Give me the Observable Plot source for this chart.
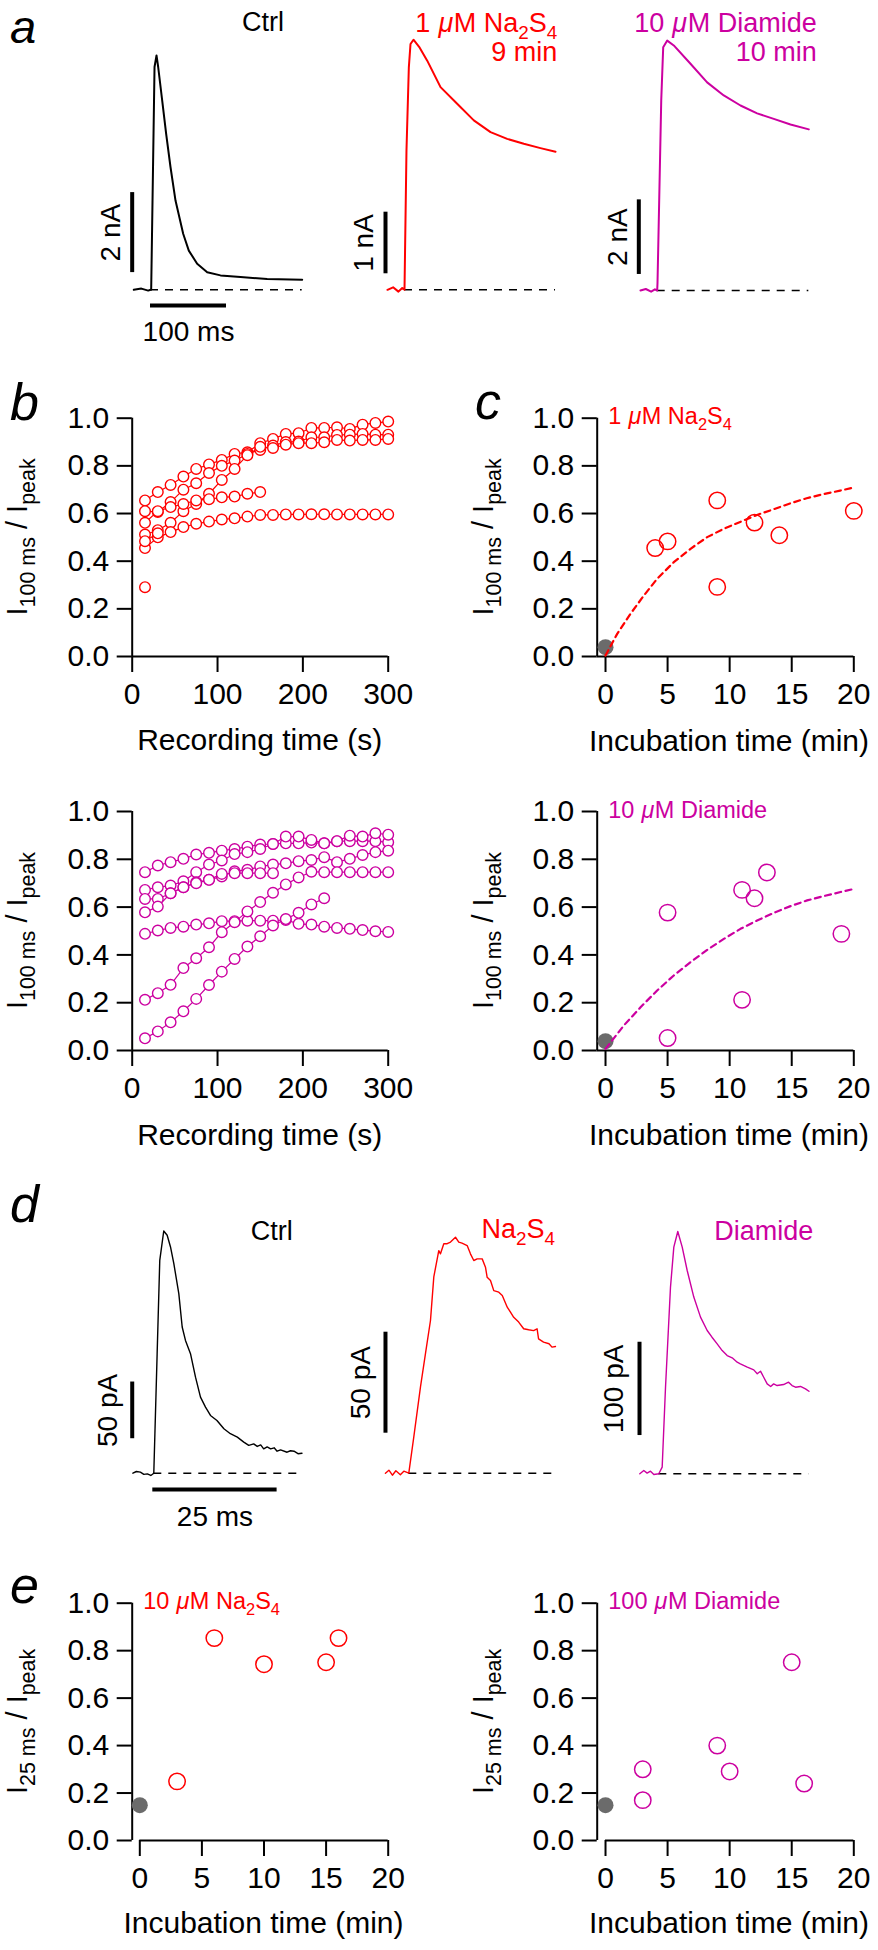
<!DOCTYPE html>
<html><head><meta charset="utf-8">
<script src="https://cdn.jsdelivr.net/npm/d3@7"></script>
<script src="https://cdn.jsdelivr.net/npm/@observablehq/plot@0.6"></script>
<style>
body{margin:0;background:#fff;}
#fig{position:relative;width:878px;height:1950px;background:#fff;}
#fig svg{position:absolute;overflow:visible;}
</style></head><body><div id="fig"></div>
<script>
// ---------- colours ----------
const RED = "#ff0000", MAG = "#cc00a0", GRAY = "#6b6b6b", BLACK = "#000000";
const FONT = '"Liberation Sans", Arial, Helvetica, sans-serif';

// ---------- panel a: whole-cell traces (time ms, current nA) ----------
const aCtrlT = [-22, -12, -3, 0, 0.9, 5.3, 7.9, 10.1, 15.4, 20.6, 26.3, 32.9, 43, 50.4, 61.4, 74.6, 92.1, 118.4, 153.5, 199.6];
const aCtrlI = [0, 0.03, -0.02, 0, 0, 5.57, 5.86, 5.57, 4.73, 3.90, 3.07, 2.23, 1.40, 0.98, 0.65, 0.44, 0.36, 0.32, 0.27, 0.25];
const aNaT = [-22.4, -15, -8, -3, 0, 2.6, 5.7, 7.9, 11.8, 20, 29.9, 47.4, 69.3, 91.2, 113.2, 135.1, 157, 178.9, 198.7];
const aNaI = [0, 0.04, -0.03, 0.03, 0, 2.26, 3.61, 3.99, 4.06, 3.93, 3.72, 3.29, 3.02, 2.75, 2.56, 2.45, 2.37, 2.30, 2.24];
const aDiT = [-22, -15, -8, -3, 0, 0.4, 5.3, 7.9, 13.2, 21.8, 43.8, 65.7, 87.6, 109.6, 131.5, 153.4, 175.4, 199.5];
const aDiI = [0, 0.04, -0.03, 0.03, 0, 0.2, 5.09, 6.52, 6.70, 6.57, 6.08, 5.58, 5.23, 4.96, 4.75, 4.60, 4.45, 4.32];

// ---------- panel b: I100ms/Ipeak vs recording time ----------
const recTime = [15,30,45,60,75,90,105,120,135,150,165,180,195,210,225,240,255,270,285,300];
const bNa1 = [0.655,0.690,0.720,0.755,0.787,0.806,0.825,0.850,0.857,0.895,0.913,0.934,0.937,0.959,0.959,0.962,0.955,0.973,0.980,0.986];
const bNa2 = [0.610,0.606,0.648,0.700,0.727,0.770,0.800,0.822,0.850,0.867,0.885,0.900,0.902,0.920,0.920,0.930,0.931,0.934,0.931,0.931];
const bNa3 = [0.512,0.530,0.561,0.610,0.640,0.683,0.741,0.787,0.845,0.880,0.875,0.889,0.895,0.895,0.899,0.909,0.906,0.909,0.909,0.913];
const bNa4 = [0.561,0.610,0.627,0.640,0.655,0.660,0.668,0.671,0.683,0.690];
const bNa5 = [0.455,0.500,0.522,0.543,0.557,0.566,0.575,0.580,0.587,0.594,0.594,0.596,0.596,0.597,0.597,0.596,0.596,0.596,0.596,0.596];
const bNa6 = [0.484,0.517];
const bNa7 = [0.291];
const bDi1 = [0.746,0.774,0.788,0.802,0.820,0.827,0.836,0.843,0.853,0.862,0.864,0.867,0.867,0.870,0.867,0.876,0.876,0.876,0.876,0.871];
const bDi2 = [0.672,0.683,0.690,0.708,0.746,0.778,0.795,0.822,0.830,0.843,0.864,0.895,0.895,0.881,0.867,0.876,0.899,0.895,0.909,0.903];
const bDi3 = [0.634,0.634,0.658,0.683,0.704,0.714,0.728,0.750,0.756,0.770,0.778,0.783,0.792,0.797,0.809,0.788,0.802,0.818,0.830,0.836];
const bDi4 = [0.578,0.602,0.658,0.683,0.700,0.714,0.739,0.742,0.742,0.742,0.742];
const bDi5 = [0.488,0.502,0.513,0.518,0.527,0.532,0.541,0.541,0.543,0.543,0.543,0.546,0.530,0.527,0.518,0.513,0.509,0.504,0.499,0.496];
const bDi6 = [0.212,0.240,0.275,0.345,0.386,0.432,0.495,0.537,0.582,0.621,0.660,0.695,0.724,0.748,0.746,0.746,0.746,0.746,0.746,0.746];
const bDi7 = [0.051,0.080,0.118,0.164,0.216,0.274,0.330,0.383,0.435,0.478,0.523,0.550,0.576,0.611,0.637];

// ---------- panel c: I100ms/Ipeak vs incubation time ----------
const cNaT = [4, 5, 9, 9, 12, 14, 20];
const cNaV = [0.455, 0.483, 0.655, 0.292, 0.562, 0.509, 0.611];
const cNaFitT = [0, 0.94, 2.01, 3.09, 4.16, 5.5, 6.85, 8.19, 9.53, 10.9, 12.2, 13.6, 14.9, 16.2, 17.6, 18.9, 20];
const cNaFitV = [0.004, 0.095, 0.179, 0.256, 0.326, 0.396, 0.452, 0.501, 0.536, 0.566, 0.594, 0.619, 0.643, 0.664, 0.682, 0.696, 0.709];
const cDiT = [5, 5, 11, 11, 12, 13, 19];
const cDiV = [0.577, 0.052, 0.672, 0.212, 0.637, 0.745, 0.488];
const cDiFitT = [0, 1.48, 2.82, 4.16, 5.5, 6.85, 8.19, 9.53, 10.87, 12.21, 13.56, 14.9, 16.24, 17.58, 18.93, 20];
const cDiFitV = [0.007, 0.105, 0.181, 0.251, 0.314, 0.370, 0.421, 0.467, 0.509, 0.544, 0.576, 0.604, 0.628, 0.646, 0.663, 0.676];
const cCtrlT = [0], cCtrlV = [0.039];

// ---------- panel d: traces (time ms, current pA) ----------
const dCtrlT = [-4.2,-3.5,-2.7,-2.0,-1.3,-0.6,0,0.67,1.2,2.0,2.69,3.36,4.03,5.03,5.71,6.37,7.38,8.39,9.39,10.4,11.4,12.7,14.1,15.4,16.8,18.1,19.1,20.1,20.8,21.5,22.1,22.8,23.5,24.2,24.8,25.5,26.8,27.5,28.2,29.0,29.8];
const dCtrlI = [0,1.5,0.9,-1,-0.6,-2,0,105,187.7,213.6,209.8,199.5,184.8,158.3,128.9,117.1,105.4,84.7,67.1,58.3,50.9,46.5,39.2,34.8,31.8,27.4,24.5,25.8,23.6,25,21.5,23.2,21.5,22.4,19.4,20.6,18.5,19.8,19.4,17.2,17.6];
const dNaT = [-4.7,-4.0,-3.3,-2.6,-1.7,-1.0,0,1.0,2.35,3.36,4.36,5.03,6.03,6.37,7.04,7.72,8.39,9.39,10.05,10.7,11.74,12.4,13.07,13.75,14.76,15.42,15.76,16.43,17.09,18.1,18.8,19.8,20.45,21.1,22.1,23.1,24.1,25.1,25.8,26.1,27.1,28.2,28.8,29.5];
const dNaI = [0,1.5,-1,1.2,-0.8,1,0,17.9,42.7,59.3,75.6,97.2,110.2,108.6,113.6,113.6,114.4,116.8,114.4,113.9,112.7,108.6,105.3,106.1,106.1,102,97,95.4,90.4,89.6,88,82.2,79.7,77.2,74.8,71.5,71,70.6,71.5,66.5,64.9,64.1,62.4,62.7];
const dDiT = [-3.82,-3.02,-2.35,-1.67,-1.0,0,0.68,1.35,2.35,3.02,3.82,4.71,5.71,7.04,8.39,9.73,10.7,11.74,12.75,13.75,14.76,15.77,16.4,17.8,19.1,19.8,20.45,21.1,21.8,22.5,23.1,23.8,25.1,26.1,26.8,27.5,28.5,29.5,30.2];
const dDiI = [0,3.5,0.7,2.8,-0.7,0,7.1,92.8,200,242.9,259.7,242.9,217.9,189.4,167.9,153.6,146.4,139.3,132.1,126.7,124.3,119.6,117.8,114.3,111.4,107.2,110,103.5,96.4,93.6,96.4,94.6,95.7,98.2,94.6,92.8,93.6,91.1,88.5];

// ---------- panel e: I25ms/Ipeak vs incubation time ----------
const eNaT = [3, 6, 10, 15, 16];
const eNaV = [0.249, 0.853, 0.743, 0.751, 0.853];
const eDiT = [3, 3, 9, 10, 15, 16];
const eDiV = [0.30, 0.17, 0.40, 0.291, 0.751, 0.24];
const eCtrlT = [0], eCtrlV = [0.149];

// ---------- ticks ----------
const yTicks = [0, 0.2, 0.4, 0.6, 0.8, 1.0];
const recTicks = [0, 100, 200, 300];
const incTicks = [0, 5, 10, 15, 20];

// ================= helpers =================
const fig = document.getElementById("fig");
const baseStyle = {background: "transparent", overflow: "visible", fontFamily: FONT, fontSize: "30px", color: "black"};
const tbl = (ts, vs) => ts.map((t, i) => ({t, v: vs[i]}));
const seriesTable = list => list.flatMap((vals, s) => vals.map((v, i) => ({s, t: recTime[i], v})));
function place(svg, L, T) { svg.style.left = L + "px"; svg.style.top = T + "px"; fig.appendChild(svg); return svg; }

// rotated label with tspans (used for the y titles)
function rich(svg, x, y, parts, {size = 22, anchor = "start", fill = "black", rotate = 0, subScale = 0.7, subShift = 0.3} = {}) {
  const t = d3.select(svg).append("text")
    .attr("font-family", FONT).attr("font-size", size).attr("fill", fill)
    .attr("text-anchor", anchor).style("white-space", "pre")
    .attr("transform", `translate(${x},${y})` + (rotate ? ` rotate(${rotate})` : ""));
  let shift = 0;
  for (const p of parts) {
    const [s, kind] = typeof p === "string" ? [p, "n"] : p;
    const ts = t.append("tspan").text(s);
    const target = kind === "s" ? size * subShift : 0;
    if (target !== shift) { ts.attr("dy", target - shift); shift = target; }
    if (kind === "s") ts.attr("font-size", size * subScale);
  }
  return t;
}
// horizontal label built from separate pieces laid out by measurement
// parts: "text" | [text, kind, gapEm]; kind: n normal, i italic, s subscript
function label(svg, x, y, parts, {size = 22, anchor = "start", fill = "black", subScale = 0.7, subShift = 0.25} = {}) {
  const g = d3.select(svg).append("g").attr("fill", fill);
  let cx = 0;
  for (const p of parts) {
    const [s, kind, gapEm] = typeof p === "string" ? [p, "n", 0] : p;
    cx += (gapEm || 0) * size;
    const fs = kind === "s" ? size * subScale : size;
    const t = g.append("text").attr("x", cx).attr("y", kind === "s" ? size * subShift : 0)
      .attr("font-family", FONT).attr("font-size", fs).attr("text-anchor", "start").text(s);
    if (kind === "i") t.attr("font-style", "italic");
    cx += t.node().getComputedTextLength();
  }
  const x0 = anchor === "end" ? x - cx : anchor === "middle" ? x - cx / 2 : x;
  g.attr("transform", `translate(${x0},${y})`);
  return g;
}
function letter(svg, x, y, ch, size = 52) {
  d3.select(svg).append("text").attr("x", x).attr("y", y).attr("font-family", FONT)
    .attr("text-anchor", "start").attr("font-size", size).attr("font-style", "italic").attr("fill", "black").text(ch);
}
function plainText(svg, x, y, s, {size = 30, anchor = "middle", fill = "black"} = {}) {
  d3.select(svg).append("text").attr("x", x).attr("y", y).attr("font-family", FONT)
    .attr("font-size", size).attr("text-anchor", anchor).attr("fill", fill).text(s);
}

// trace panel (no axes): scale bars drawn through the scales
function tracePanel(o) {
  const data = tbl(o.t, o.v);
  const tEnd = o.t[o.t.length - 1];
  const marks = [
    Plot.ruleY([{y: 0, x1: 0, x2: tEnd}], {y: "y", x1: "x1", x2: "x2", stroke: BLACK, strokeWidth: 1.4, strokeDasharray: "8,7"}),
    Plot.line(data, {x: "t", y: "v", stroke: o.color, strokeWidth: o.lw}),
    Plot.ruleX([{x: o.vbar.t, y1: o.vbar.v1, y2: o.vbar.v2}], {x: "x", y1: "y1", y2: "y2", stroke: BLACK, strokeWidth: 4}),
    Plot.text([{x: o.vbar.t, y: (o.vbar.v1 + o.vbar.v2) / 2, s: o.vbar.label}], {x: "x", y: "y", text: "s", rotate: -90, dx: o.vbar.dx, fontSize: 28, fill: BLACK})
  ];
  if (o.hbar) {
    marks.push(Plot.ruleY([{y: o.hbar.v, x1: o.hbar.t1, x2: o.hbar.t2}], {y: "y", x1: "x1", x2: "x2", stroke: BLACK, strokeWidth: 4}));
    marks.push(Plot.text([{x: (o.hbar.t1 + o.hbar.t2) / 2, y: o.hbar.v, s: o.hbar.label}], {x: "x", y: "y", text: "s", dy: o.hbar.dy, fontSize: 28, fill: BLACK}));
  }
  const svg = Plot.plot({
    width: o.W, height: o.H, style: baseStyle,
    x: {domain: o.xDomain, range: o.xRange, axis: null},
    y: {domain: o.yDomain, range: o.yRange, axis: null},
    marks
  });
  return place(svg, o.L, o.T);
}

// axis panel (Igor-like axes)
function axisPanel(o) {
  const svg = Plot.plot({
    width: o.W, height: o.H, style: baseStyle,
    marginLeft: o.yAxisPx - o.L, marginRight: o.L + o.W - o.x1px,
    marginTop: o.y1px - o.T, marginBottom: o.T + o.H - o.y0px,
    x: {domain: o.xDomain}, y: {domain: [0, 1]},
    marks: [
      Plot.ruleX([{x: o.xDomain[0], y1: 0, y2: 1}], {x: "x", y1: "y1", y2: "y2", stroke: BLACK, strokeWidth: 2}),
      Plot.ruleY([{y: 0, x1: o.xLineFrom, x2: o.xDomain[1]}], {y: "y", x1: "x1", x2: "x2", stroke: BLACK, strokeWidth: 2}),
      Plot.axisY({ticks: yTicks, tickSize: 15, tickPadding: 8, tickFormat: d3.format(".1f"), fontSize: 30, strokeWidth: 2, label: null}),
      Plot.axisX({ticks: o.xTicks, tickSize: 16, tickPadding: 10, fontSize: 30, strokeWidth: 2, label: null}),
      ...o.marks
    ]
  });
  place(svg, o.L, o.T);
  return svg;
}

const naLabel = lead => [lead, ["\u03bc", "i", 0.3], ["M Na", "n", 0.02], ["2", "s"], "S", ["4", "s"]];
const diLabel = lead => [lead, ["\u03bc", "i", 0.3], ["M Diamide", "n", 0.02]];

// ================= panel a =================
{
  const s1 = tracePanel({L: 0, T: 0, W: 310, H: 355, t: aCtrlT, v: aCtrlI, color: BLACK, lw: 2,
    xDomain: [0, 100], xRange: [150, 226], yDomain: [0, 1], yRange: [289.3, 249.3],
    vbar: {t: -24.1, v1: 0.43, v2: 2.43, label: "2 nA", dx: -21},
    hbar: {t1: 0, t2: 100, v: -0.39, label: "100 ms", dy: 27}});
  letter(s1, 10, 43, "a", 47);
  plainText(s1, 263, 31, "Ctrl", {size: 27});

  const s2 = tracePanel({L: 310, T: 0, W: 260, H: 355, t: aNaT, v: aNaI, color: RED, lw: 2,
    xDomain: [0, 100], xRange: [94, 170], yDomain: [0, 1], yRange: [289.3, 227.7],
    vbar: {t: -25, v1: 0.26, v2: 1.26, label: "1 nA", dx: -21}});
  label(s2, 247.3, 32, naLabel("1"), {size: 27, anchor: "end", fill: RED});
  plainText(s2, 247.3, 61, "9 min", {size: 27, anchor: "end", fill: RED});

  const s3 = tracePanel({L: 570, T: 0, W: 308, H: 355, t: aDiT, v: aDiI, color: MAG, lw: 2,
    xDomain: [0, 100], xRange: [86.7, 162.7], yDomain: [0, 1], yRange: [290, 252.7],
    vbar: {t: -24.2, v1: 0.43, v2: 2.43, label: "2 nA", dx: -21}});
  label(s3, 246.7, 32, diLabel("10"), {size: 27, anchor: "end", fill: MAG});
  plainText(s3, 246.7, 61, "10 min", {size: 27, anchor: "end", fill: MAG});
}

// ================= panel b & c =================
function bMarks(list, color) {
  const d = seriesTable(list);
  return [
    Plot.line(d, {x: "t", y: "v", z: "s", stroke: color, strokeWidth: 1.2}),
    Plot.dot(d, {x: "t", y: "v", r: 5.3, stroke: color, fill: "white", strokeWidth: 1.4})
  ];
}
function cMarks(ptT, ptV, fitT, fitV, ctT, ctV, color) {
  const marks = [Plot.dot(tbl(ctT, ctV), {x: "t", y: "v", r: 8, fill: GRAY, stroke: "none"})];
  if (fitT) marks.push(Plot.line(tbl(fitT, fitV), {x: "t", y: "v", stroke: color, strokeWidth: 2.2, strokeDasharray: "6,4.5"}));
  marks.push(Plot.dot(tbl(ptT, ptV), {x: "t", y: "v", r: 8.2, stroke: color, fill: "none", strokeWidth: 1.5}));
  return marks;
}
function yTitle(svg, x, yc, sub) {
  rich(svg, x, yc, ["I", [sub, "s"], " / I", ["peak", "s"]], {size: 29, anchor: "middle", rotate: -90, subScale: 0.74, subShift: 0.27});
}

{
  const bt = axisPanel({L: 0, T: 355, W: 439, H: 415, yAxisPx: 131.7, x1px: 387.7, y0px: 656, y1px: 417.7,
    xDomain: [0, 300], xLineFrom: 0, xTicks: recTicks,
    marks: bMarks([bNa1, bNa2, bNa3, bNa4, bNa5, bNa6, bNa7], RED)});
  letter(bt, 10, 65, "b");
  yTitle(bt, 27, 536.9 - 355, "100 ms");
  plainText(bt, 259.7, 395, "Recording time (s)");

  const bb = axisPanel({L: 0, T: 770, W: 439, H: 390, yAxisPx: 131.7, x1px: 387.7, y0px: 1050, y1px: 811,
    xDomain: [0, 300], xLineFrom: 0, xTicks: recTicks,
    marks: bMarks([bDi1, bDi2, bDi3, bDi4, bDi5, bDi6, bDi7], MAG)});
  yTitle(bb, 27, 930.5 - 770, "100 ms");
  plainText(bb, 259.7, 375, "Recording time (s)");

  const ct = axisPanel({L: 439, T: 355, W: 439, H: 415, yAxisPx: 596.7, x1px: 853.3, y0px: 656, y1px: 417.7,
    xDomain: [-0.67, 20], xLineFrom: -0.67, xTicks: incTicks,
    marks: cMarks(cNaT, cNaV, cNaFitT, cNaFitV, cCtrlT, cCtrlV, RED)});
  letter(ct, 36, 64.3, "c");
  yTitle(ct, 493.3 - 439, 536.9 - 355, "100 ms");
  plainText(ct, 290, 396, "Incubation time (min)");
  label(ct, 169.3, 69.3, naLabel("1"), {size: 23.5, fill: RED});

  const cb = axisPanel({L: 439, T: 770, W: 439, H: 390, yAxisPx: 596.7, x1px: 853.3, y0px: 1050, y1px: 811,
    xDomain: [-0.67, 20], xLineFrom: -0.67, xTicks: incTicks,
    marks: cMarks(cDiT, cDiV, cDiFitT, cDiFitV, cCtrlT, cCtrlV, MAG)});
  yTitle(cb, 493.3 - 439, 930.5 - 770, "100 ms");
  plainText(cb, 290, 375, "Incubation time (min)");
  label(cb, 169.3, 48.3, diLabel("10"), {size: 23.5, fill: MAG});
}

// ================= panel d =================
{
  const d1 = tracePanel({L: 0, T: 1160, W: 310, H: 380, t: dCtrlT, v: dCtrlI, color: BLACK, lw: 1.4,
    xDomain: [0, 25], xRange: [153.3, 277.6], yDomain: [0, 50], yRange: [312.7, 256],
    vbar: {t: -4.34, v1: 30.4, v2: 80.4, label: "50 pA", dx: -24},
    hbar: {t1: -0.2, t2: 24.8, v: -14.4, label: "25 ms", dy: 28}});
  letter(d1, 10, 61.7, "d");
  plainText(d1, 271.7, 80, "Ctrl", {size: 27});

  const d2 = tracePanel({L: 310, T: 1160, W: 260, H: 380, t: dNaT, v: dNaI, color: RED, lw: 1.4,
    xDomain: [0, 25], xRange: [98.3, 222.6], yDomain: [0, 50], yRange: [312.7, 211.7],
    vbar: {t: -4.69, v1: 19.8, v2: 69.8, label: "50 pA", dx: -24}});
  label(d2, 245, 78.3, ["Na", ["2", "s"], "S", ["4", "s"]], {size: 27, anchor: "end", fill: RED});

  const d3el = tracePanel({L: 570, T: 1160, W: 308, H: 380, t: dDiT, v: dDiI, color: MAG, lw: 1.4,
    xDomain: [0, 25], xRange: [88.3, 212.6], yDomain: [0, 100], yRange: [313.3, 220],
    vbar: {t: -3.88, v1: 41, v2: 141, label: "100 pA", dx: -25}});
  plainText(d3el, 243.3, 80, "Diamide", {size: 27, anchor: "end", fill: MAG});
}

// ================= panel e =================
{
  const el = axisPanel({L: 0, T: 1540, W: 439, H: 410, yAxisPx: 131.7, x1px: 387.7, y0px: 1840, y1px: 1602.7,
    xDomain: [-0.612, 20], xLineFrom: 0, xTicks: incTicks,
    marks: cMarks(eNaT, eNaV, null, null, eCtrlT, eCtrlV, RED)});
  letter(el, 10, 63, "e");
  yTitle(el, 27, 1721.4 - 1540, "25 ms");
  plainText(el, 263.5, 393, "Incubation time (min)");
  label(el, 143.3, 69, naLabel("10"), {size: 23.5, fill: RED});

  const er = axisPanel({L: 439, T: 1540, W: 439, H: 410, yAxisPx: 596.7, x1px: 853.3, y0px: 1840, y1px: 1602.7,
    xDomain: [-0.67, 20], xLineFrom: 0, xTicks: incTicks,
    marks: cMarks(eDiT, eDiV, null, null, eCtrlT, eCtrlV, MAG)});
  yTitle(er, 493.3 - 439, 1721.4 - 1540, "25 ms");
  plainText(er, 290, 393, "Incubation time (min)");
  label(er, 169.3, 69, diLabel("100"), {size: 23.5, fill: MAG});
}
</script></body></html>
